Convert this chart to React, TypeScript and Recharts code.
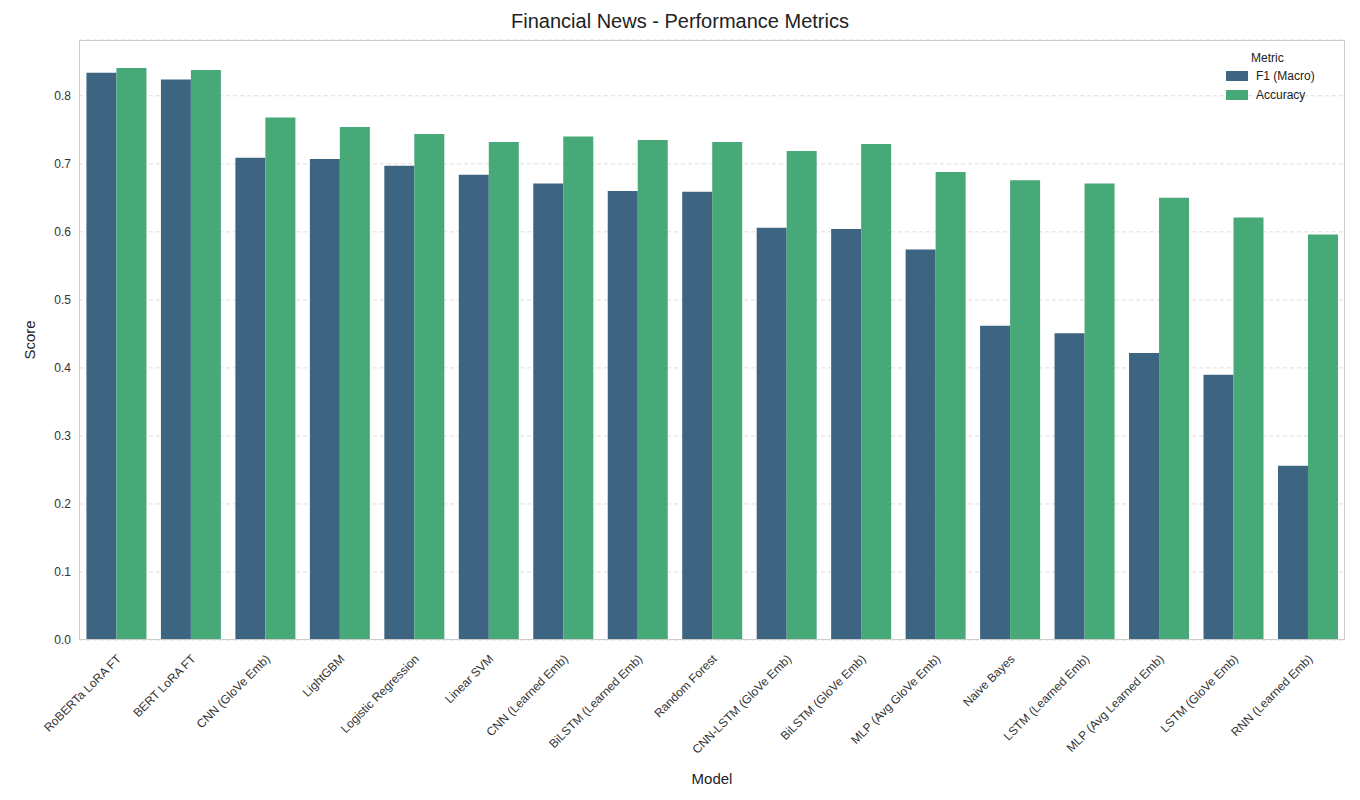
import React from "react";
import { BarChart, Bar, XAxis, YAxis, CartesianGrid, Label } from "recharts";

const models = ["RoBERTa LoRA FT","BERT LoRA FT","CNN (GloVe Emb)","LightGBM","Logistic Regression","Linear SVM","CNN (Learned Emb)","BiLSTM (Learned Emb)","Random Forest","CNN-LSTM (GloVe Emb)","BiLSTM (GloVe Emb)","MLP (Avg GloVe Emb)","Naive Bayes","LSTM (Learned Emb)","MLP (Avg Learned Emb)","LSTM (GloVe Emb)","RNN (Learned Emb)"];
const f1 = [0.834,0.824,0.709,0.707,0.697,0.684,0.671,0.660,0.659,0.606,0.604,0.574,0.462,0.451,0.422,0.390,0.256];
const acc = [0.841,0.838,0.768,0.754,0.744,0.732,0.740,0.735,0.732,0.719,0.729,0.688,0.676,0.671,0.650,0.621,0.596];
const yTicks = [0,0.1,0.2,0.3,0.4,0.5,0.6,0.7,0.8];
const data = models.map((m, i) => ({ model: m, f1: f1[i], acc: acc[i] }));

const C1 = "#3d6480";
const C2 = "#47a878";
const font = "'Liberation Sans', Arial, sans-serif";

const Tick = (p: any) => (
  <text x={p.x} y={p.y + 6} textAnchor="end" fontSize={12} fill="#333" fontFamily={font}
    transform={`rotate(-45 ${p.x} ${p.y + 6})`} dy={8}>{p.payload.value}</text>
);

export default function App() {
  return (
    <div style={{ position: "absolute", left: 0, top: 0, width: 1360, height: 800, background: "#fff", fontFamily: font }}>
      <div style={{ position: "absolute", top: 10, width: 1360, textAlign: "center", fontSize: 20, color: "#222" }}>Financial News - Performance Metrics</div>
      <BarChart width={1360} height={800} data={data} margin={{ top: 40, right: 15, bottom: 0, left: 0 }} barCategoryGap="10%" barGap={0}>
        <CartesianGrid horizontal vertical={false} strokeDasharray="4 3" stroke="#dddddd" />
        <XAxis dataKey="model" interval={0} tick={<Tick />} tickLine={false} axisLine={false} height={160}>
          <Label value="Model" position="insideBottom" offset={16} style={{ fontSize: 15, fill: "#222", fontFamily: font }} />
        </XAxis>
        <YAxis domain={[0, 0.882]} ticks={yTicks} tickFormatter={(v: number) => v.toFixed(1)} width={79}
          tick={{ fontSize: 12, fill: "#333", fontFamily: font }} tickLine={false} axisLine={false}>
          <Label value="Score" angle={-90} position="insideLeft" offset={30} style={{ fontSize: 15, fill: "#222", fontFamily: font, textAnchor: "middle" }} />
        </YAxis>
        <Bar dataKey="f1" fill={C1} isAnimationActive={false} />
        <Bar dataKey="acc" fill={C2} isAnimationActive={false} />
      </BarChart>
      <div style={{ position: "absolute", left: 79, top: 40, width: 1266, height: 600, border: "1px solid #ccc", boxSizing: "border-box", pointerEvents: "none" }} />
      <div style={{ position: "absolute", left: 1220, top: 51, fontSize: 12, color: "#222" }}>
        <div style={{ textAlign: "center", marginBottom: 4 }}>Metric</div>
        <div style={{ display: "flex", alignItems: "center", marginBottom: 5 }}>
          <span style={{ width: 22, height: 10, background: C1, display: "inline-block", marginRight: 8, marginLeft: 6 }} />F1 (Macro)
        </div>
        <div style={{ display: "flex", alignItems: "center" }}>
          <span style={{ width: 22, height: 10, background: C2, display: "inline-block", marginRight: 8, marginLeft: 6 }} />Accuracy
        </div>
      </div>
    </div>
  );
}
